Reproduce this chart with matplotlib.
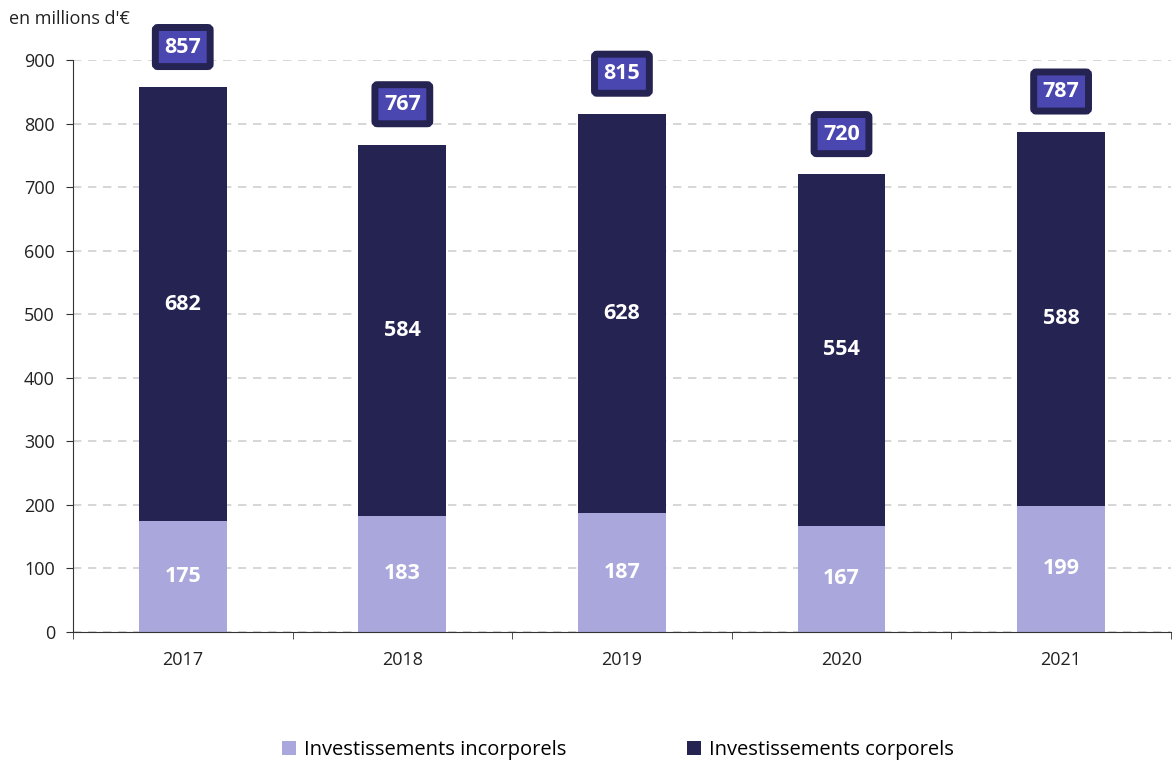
import matplotlib
matplotlib.use("Agg")
import matplotlib.pyplot as plt
import numpy as np

plt.rcParams['font.family'] = ['Open Sans', 'DejaVu Sans']

years = ["2017", "2018", "2019", "2020", "2021"]
incorporels = [175, 183, 187, 167, 199]
corporels = [682, 584, 628, 554, 588]
totals = [857, 767, 815, 720, 787]

light = "#a9a7db"
dark = "#252352"
box_fill = "#4b47b0"

fig = plt.figure(figsize=(11.73, 7.62), dpi=100)
ax = fig.add_axes([0.0622, 0.1706, 0.936, 0.7507])

x = np.arange(len(years))
w = 0.4
ax.bar(x, incorporels, w, color=light, label="Investissements incorporels", zorder=2)
ax.bar(x, corporels, w, bottom=incorporels, color=dark, label="Investissements corporels", zorder=2)

for xi, a, b, t in zip(x, incorporels, corporels, totals):
    ax.text(xi, a / 2, str(a), ha="center", va="center", color="white",
            fontsize=15.5, fontweight="bold")
    ax.text(xi, a + b / 2, str(b), ha="center", va="center", color="white",
            fontsize=15.5, fontweight="bold")
    ax.annotate(str(t), (xi, t), xytext=(0, 29), textcoords="offset points",
                ha="center", va="center", color="white", fontsize=15.5, fontweight="bold",
                bbox=dict(boxstyle="round,pad=0.42,rounding_size=0.12", fc=box_fill, ec=dark, lw=5))

ax.set_xlim(-0.5, len(years) - 0.5)
ax.set_ylim(0, 900)
ax.set_yticks(range(0, 901, 100))
ax.set_xticks(x)
ax.set_xticklabels(years)
ax.set_xticks(np.arange(-0.5, len(years)), minor=True)
ax.tick_params(axis="x", which="major", length=0, pad=14, labelsize=13, colors="#222222")
ax.tick_params(axis="x", which="minor", length=5, color="#333333")
ax.tick_params(axis="y", length=5, labelsize=13, colors="#222222", pad=8)
ax.tick_params(axis="y", color="#333333")

ax.grid(axis="y", color="#d0d0d0", linestyle=(0, (5, 4)), linewidth=1.2, zorder=0)
ax.set_axisbelow(True)
for s in ["top", "right"]:
    ax.spines[s].set_visible(False)
for s in ["left", "bottom"]:
    ax.spines[s].set_color("#333333")

fig.text(0.008, 0.975, "en millions d'€", ha="left", va="center", fontsize=13, color="#222222")

fig.legend(loc="center", bbox_to_anchor=(0.527, 0.016), ncol=2, frameon=False,
           fontsize=14.5, handlelength=0.7, handleheight=0.7, handletextpad=0.4,
           columnspacing=6)

fig.savefig("out.png", dpi=100)
